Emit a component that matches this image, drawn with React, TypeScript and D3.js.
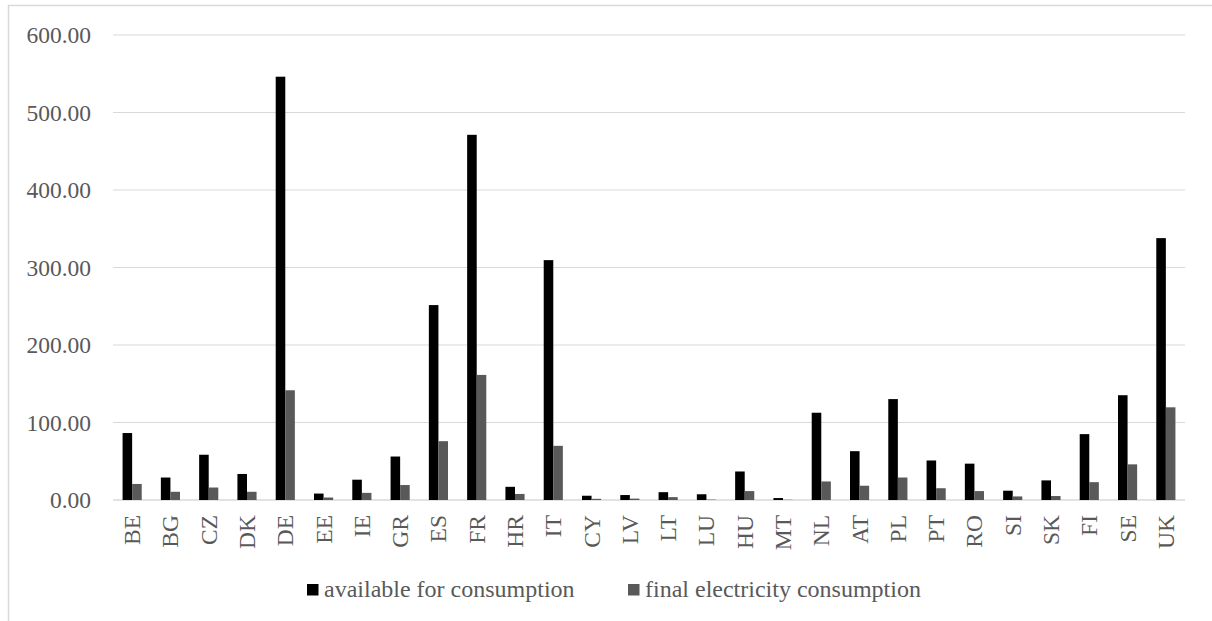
import React from "react";
import * as d3 from "d3";

const countries = [
  "BE", "BG", "CZ", "DK", "DE", "EE", "IE", "GR", "ES", "FR",
  "HR", "IT", "CY", "LV", "LT", "LU", "HU", "MT", "NL", "AT",
  "PL", "PT", "RO", "SI", "SK", "FI", "SE", "UK",
];

const availableForConsumption = [
  86.4, 29.0, 58.4, 33.6, 546.2, 8.3, 26.2, 56.1, 251.5, 471.2,
  17.0, 309.5, 5.5, 6.4, 10.1, 7.4, 36.8, 2.5, 112.6, 63.0,
  130.2, 51.0, 46.9, 12.0, 25.3, 85.0, 135.2, 337.9,
];

const finalElectricityConsumption = [
  20.7, 10.6, 16.1, 10.6, 141.6, 3.2, 9.2, 19.3, 75.9, 161.4,
  7.8, 69.9, 1.5, 1.8, 3.7, 0.5, 11.5, 0.3, 23.9, 18.4,
  29.0, 15.2, 11.5, 4.6, 5.1, 23.0, 46.0, 119.6,
];

const yTicks = [0, 100, 200, 300, 400, 500, 600];

const seriesNames = ["available for consumption", "final electricity consumption"];
const seriesColors = ["#000000", "#595959"];

const W = 1212;
const H = 621;
const FONT = "'Times New Roman', 'Liberation Serif', serif";
const TEXT = "#595959";
const GRID = "#d9d9d9";

export default function App() {
  const x = d3.scaleBand<string>().domain(countries).range([113, 1185]).paddingInner(0).paddingOuter(0);
  const y = d3.scaleLinear().domain([0, 600]).range([500, 35]);
  const barW = x.bandwidth() / 4;
  const series = [availableForConsumption, finalElectricityConsumption];
  const fmt = d3.format(".2f");

  return (
    <svg
      width={W}
      height={H}
      style={{ position: "absolute", left: 0, top: 0, background: "#fff" }}
      fontFamily={FONT}
    >
      {/* chart area frame */}
      <rect x={8.5} y={5.5} width={W + 20} height={H + 20} fill="#fff" stroke={GRID} strokeWidth={1.5} />

      {/* gridlines and value axis */}
      {yTicks.map((t) => (
        <g key={t}>
          <line x1={113} x2={1185} y1={y(t)} y2={y(t)} stroke={GRID} strokeWidth={t === 0 ? 1.5 : 1.2} />
          <text x={91} y={y(t)} textAnchor="end" dominantBaseline="central" fontSize={23.5} fill={TEXT}>
            {fmt(t)}
          </text>
        </g>
      ))}

      {/* bars */}
      {countries.map((c, i) => {
        const cx = (x(c) as number) + x.bandwidth() / 2;
        return (
          <g key={c}>
            {series.map((vals, s) => (
              <rect
                key={s}
                x={cx - barW + s * barW}
                y={y(vals[i])}
                width={barW}
                height={y(0) - y(vals[i])}
                fill={seriesColors[s]}
              />
            ))}
            <text
              transform={`translate(${cx},515) rotate(-90)`}
              textAnchor="end"
              dominantBaseline="central"
              fontSize={23.5}
              fill={TEXT}
            >
              {c}
            </text>
          </g>
        );
      })}

      {/* legend */}
      {[307, 628].map((lx, s) => (
        <g key={s}>
          <rect x={lx} y={584} width={11.5} height={11.5} fill={seriesColors[s]} />
          <text x={lx + 17} y={589} dominantBaseline="central" fontSize={24} fill={TEXT}>
            {seriesNames[s]}
          </text>
        </g>
      ))}
    </svg>
  );
}
